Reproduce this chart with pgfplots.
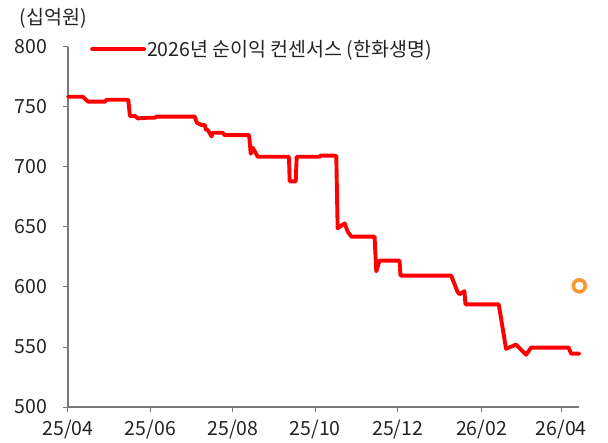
\documentclass[border=0pt]{standalone}
\usepackage{pgfplots}
\pgfplotsset{compat=1.18}
\usepackage{fontspec}
\setmainfont{Noto Sans CJK KR}
\definecolor{txt}{RGB}{35,35,35}
\definecolor{axgray}{RGB}{120,120,120}
\definecolor{ring}{RGB}{247,152,52}
\begin{document}
\begin{tikzpicture}
\useasboundingbox (-68pt,-35pt) rectangle (540pt,407pt);
\begin{axis}[
  scale only axis,
  width=511.3pt, height=360pt,
  xmin=0, xmax=378.3, ymin=500, ymax=800,
  axis x line=bottom, axis y line=left,
  axis line style={axgray, line width=1.1pt, -},
  xtick={0,61,122,183,244,306,365},
  xticklabels={25/04,25/06,25/08,25/10,25/12,26/02,26/04},
  ytick={500,550,600,650,700,750,800},
  tick align=outside,
  major tick length=5pt,
  tick style={axgray, line width=1pt},
  /pgf/number format/assume math mode=true,
  ticklabel style={font=\fontsize{19.5}{22}\selectfont, text=txt},
  yticklabel style={xshift=-12pt},
  xticklabel style={yshift=-4pt},
  legend style={draw=none, fill=none, at={(0.043,0.994)}, anchor=west,
    inner sep=0pt, font=\fontsize{19.5}{22}\selectfont, text=txt,
    nodes={inner sep=1pt}},
  legend image code/.code={\draw[#1] (0pt,0pt) -- (52pt,0pt);},
  clip=false,
]
\addplot[red, line width=3.9pt, line join=round, line cap=round] coordinates {
(0,758.5) (10.9,758.5) (14.8,754.5) (27.3,754.5) (28.6,756) (44.6,756)
(45.8,742.5) (49.5,742.5) (51.7,740.5) (58.2,741) (64.3,741) (65.5,742)
(93.8,742) (95.3,737) (98.8,735) (101.2,735) (102.0,731) (103.4,731)
(106.2,725.5) (107.1,728.5) (114.5,728.5) (116.0,726.5) (134.0,726.5)
(135.2,711) (136.7,716) (140.4,708.5) (163.5,708.5) (164.0,688) (168.5,688)
(169.2,708.5) (186.2,708.5) (186.9,709.5) (197.3,709.5) (198.5,709)
(199.5,649) (204.7,653) (207,646) (209.6,642) (226.8,642) (228.1,613)
(230.5,622) (245.3,622) (246.0,609.5) (283.5,609.5) (288.2,596) (289.6,594)
(293.3,596.5) (294.1,585.5) (318.7,585.5) (324.1,548.5) (331.5,552)
(338.9,543.5) (342.6,549.5) (370.4,549.5) (372.2,544.5) (378.3,544.5)
};
\addlegendentry{2026년 순이익 컨센서스 (한화생명)}
\addplot[only marks, mark=o, mark size=6pt, ring, line width=3.6pt, forget plot] coordinates {(378.3,601)};
\end{axis}
\node[text=txt, font=\fontsize{19.5}{22}\selectfont] at (-14.7pt,389pt) {(십억원)};
\end{tikzpicture}
\end{document}
